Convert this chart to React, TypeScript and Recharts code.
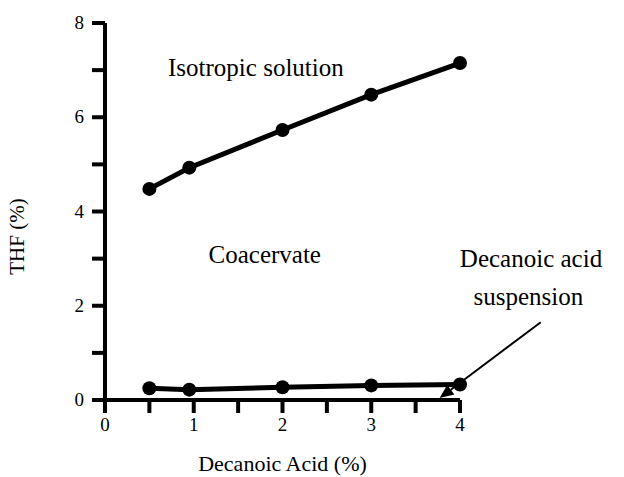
import React from 'react';
import { ComposedChart, Line, XAxis, YAxis, ReferenceDot, ReferenceLine } from 'recharts';

const acidPct = [0.5, 0.95, 2, 3, 4];
const thfUpper = [4.48, 4.93, 5.73, 6.48, 7.15];
const thfLower = [0.25, 0.22, 0.27, 0.31, 0.33];
const xTicks = [0, 0.5, 1, 1.5, 2, 2.5, 3, 3.5, 4];
const yTicks = [0, 1, 2, 3, 4, 5, 6, 7, 8];
const regionNames = ['Isotropic solution', 'Coacervate', 'Decanoic acid', 'suspension'];
const regionX = [1.7, 1.8, 4.8, 4.77];
const regionY = [7.05, 3.07, 3.0, 2.18];
const arrowFrom = { x: 4.91, y: 1.65 };
const arrowTo = { x: 3.77, y: 0.04 };

const upperData = acidPct.map((x, i) => ({ x, y: thfUpper[i] }));
const lowerData = acidPct.map((x, i) => ({ x, y: thfLower[i] }));

const FONT = '"Liberation Serif", "Times New Roman", serif';

const ArrowShape = (props: any) => {
  const { x1, y1, x2, y2 } = props;
  if ([x1, y1, x2, y2].some((v) => typeof v !== 'number')) return null;
  const ang = Math.atan2(y2 - y1, x2 - x1);
  const len = 14;
  const w = 6;
  const bx = x2 - len * Math.cos(ang);
  const by = y2 - len * Math.sin(ang);
  const px = -Math.sin(ang) * w;
  const py = Math.cos(ang) * w;
  return (
    <g>
      <line x1={x1} y1={y1} x2={bx} y2={by} stroke="#000" strokeWidth={2} />
      <polygon points={`${x2},${y2} ${bx + px},${by + py} ${bx - px},${by - py}`} fill="#000" />
    </g>
  );
};

const XTick = (p: any) => {
  const v = p.payload.value;
  if (!Number.isInteger(v)) return null;
  return (
    <text x={p.x} y={p.y + 14} textAnchor="middle" fontSize={19} fontFamily={FONT} fill="#000" style={{ fontFamily: FONT }}>
      {String(v)}
    </text>
  );
};

const YTick = (p: any) => {
  const v = p.payload.value;
  if (v % 2 !== 0) return null;
  return (
    <text x={p.x} y={p.y + 6} textAnchor="end" fontSize={19} fontFamily={FONT} fill="#000" style={{ fontFamily: FONT }}>
      {String(v)}
    </text>
  );
};

const regionLabel = (name: string) => (p: any) => {
  const vb = p.viewBox || {};
  const cx = vb.cx ?? vb.x + (vb.width || 0) / 2;
  const cy = vb.cy ?? vb.y + (vb.height || 0) / 2;
  return (
    <text x={cx} y={cy + 8} textAnchor="middle" fontSize={25} fontFamily={FONT} fill="#000" style={{ fontFamily: FONT }}>
      {name}
    </text>
  );
};

export default function App() {
  return (
    <div style={{ position: 'absolute', left: 0, top: 0, background: '#fff', fontFamily: FONT }}>
      <ComposedChart
        width={624}
        height={477}
        margin={{ top: 23, right: 164, left: 15, bottom: 37 }}
        style={{ fontFamily: FONT }}
      >
        <XAxis
          type="number"
          dataKey="x"
          domain={[0, 4]}
          ticks={xTicks}
          interval={0}
          height={40}
          axisLine={{ stroke: '#000', strokeWidth: 4 }}
          tickLine={{ stroke: '#000', strokeWidth: 4 }}
          tickSize={13}
          tickMargin={4}
          tick={<XTick />}
          label={{
            content: (p: any) => {
              const vb = p.viewBox;
              return (
                <text x={vb.x + vb.width / 2} y={vb.y + 71} textAnchor="middle" fontSize={22} fontFamily={FONT} fill="#000" style={{ fontFamily: FONT }}>
                  Decanoic Acid (%)
                </text>
              );
            },
          }}
        />
        <YAxis
          type="number"
          domain={[0, 8]}
          ticks={yTicks}
          interval={0}
          width={90}
          axisLine={{ stroke: '#000', strokeWidth: 4 }}
          tickLine={{ stroke: '#000', strokeWidth: 4 }}
          tickSize={13}
          tickMargin={8}
          tick={<YTick />}
          label={{
            content: (p: any) => {
              const vb = p.viewBox;
              const cx = 24;
              const cy = vb.y + vb.height / 2 + 25;
              return (
                <text x={cx} y={cy} textAnchor="middle" fontSize={21} fontFamily={FONT} fill="#000" style={{ fontFamily: FONT }} transform={`rotate(-90 ${cx} ${cy})`}>
                  THF (%)
                </text>
              );
            },
          }}
        />
        <Line data={upperData} dataKey="y" stroke="#000" strokeWidth={5} dot={{ r: 7, fill: '#000', stroke: '#000', strokeWidth: 0 }} isAnimationActive={false} />
        <Line data={lowerData} dataKey="y" stroke="#000" strokeWidth={5} dot={{ r: 7, fill: '#000', stroke: '#000', strokeWidth: 0 }} isAnimationActive={false} />
        <ReferenceLine
          segment={[arrowFrom, arrowTo]}
          ifOverflow="visible"
          shape={ArrowShape}
          stroke="#000"
        />
        {regionNames.map((name, i) => (
          <ReferenceDot
            key={name}
            x={regionX[i]}
            y={regionY[i]}
            r={1}
            fill="none"
            stroke="none"
            ifOverflow="visible"
            label={{ content: regionLabel(name) }}
          />
        ))}
      </ComposedChart>
    </div>
  );
}
